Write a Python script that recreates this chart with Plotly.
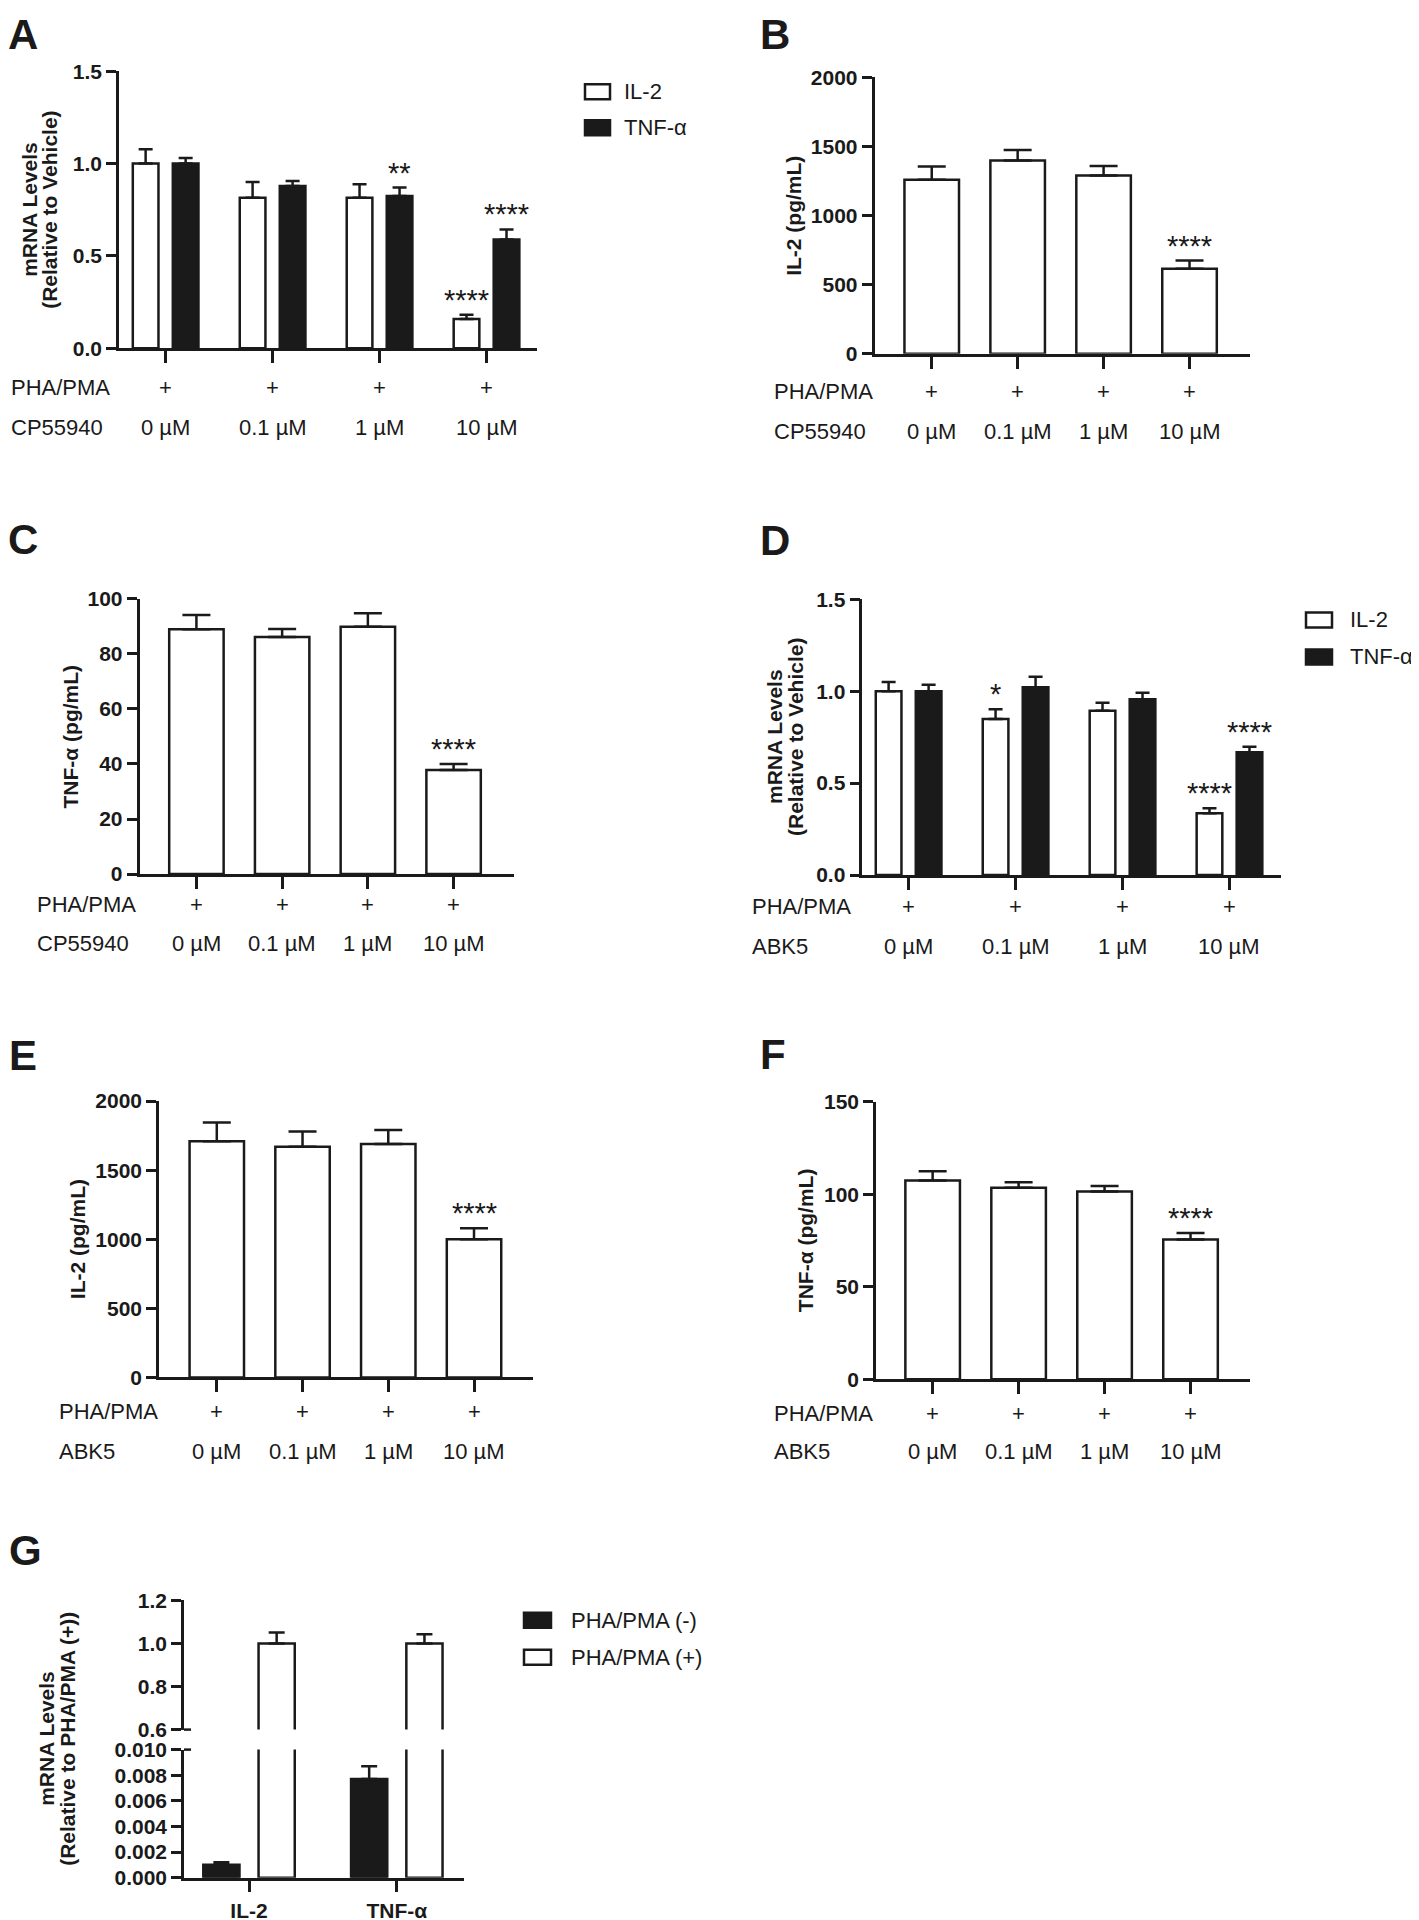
import plotly.graph_objects as go

W, H = 1411, 1920
FONT = "Arial, Liberation Sans, sans-serif"
INK = "#1a1a1a"

# ---------------- data ----------------
conc = ["0 µM", "0.1 µM", "1 µM", "10 µM"]
pha_row = ["+", "+", "+", "+"]

# Panel A (CP55940, mRNA)
a_il2 = [1.0, 0.815, 0.815, 0.158]
a_il2_err = [0.078, 0.085, 0.073, 0.023]
a_tnf = [1.0, 0.878, 0.824, 0.589]
a_tnf_err = [0.030, 0.027, 0.046, 0.054]
a_il2_sig = ["", "", "", "****"]
a_tnf_sig = ["", "", "**", "****"]

# Panel B (CP55940, IL-2 pg/mL)
b_il2 = [1260, 1400, 1290, 615]
b_il2_err = [95, 75, 70, 60]
b_sig = ["", "", "", "****"]

# Panel C (CP55940, TNF-a pg/mL)
c_tnf = [89.0, 86.2, 89.9, 37.8]
c_tnf_err = [5.2, 2.9, 4.9, 2.2]
c_sig = ["", "", "", "****"]

# Panel D (ABK5, mRNA)
d_il2 = [1.0, 0.849, 0.894, 0.336]
d_il2_err = [0.05, 0.052, 0.043, 0.027]
d_tnf = [1.0, 1.021, 0.956, 0.668]
d_tnf_err = [0.035, 0.058, 0.036, 0.030]
d_il2_sig = ["", "*", "", "****"]
d_tnf_sig = ["", "", "", "****"]

# Panel E (ABK5, IL-2 pg/mL)
e_il2 = [1710, 1670, 1690, 1000]
e_il2_err = [135, 110, 100, 80]
e_sig = ["", "", "", "****"]

# Panel F (ABK5, TNF-a pg/mL)
f_tnf = [107.5, 103.5, 101.5, 75.5]
f_tnf_err = [5.0, 3.0, 3.0, 3.5]
f_sig = ["", "", "", "****"]

# Panel G
g_genes = ["IL-2", "TNF-α"]
g_neg = [0.0010, 0.0077]
g_neg_err = [0.0002, 0.0010]
g_pos = [1.0, 1.0]
g_pos_err = [0.05, 0.042]

ticks_mrna = [0, 0.5, 1.0, 1.5]
ticks_il2 = [0, 500, 1000, 1500, 2000]
ticks_c = [0, 20, 40, 60, 80, 100]
ticks_f = [0, 50, 100, 150]
ticks_g_up = [0.6, 0.8, 1.0, 1.2]
ticks_g_lo = [0.0, 0.002, 0.004, 0.006, 0.008, 0.010]


# page-pixel -> paper coordinates (layout helpers)
def X(p):
    return (p - 8) / W


def Y(p):
    return 1 - (p / 0.9877 - 20.5) / H


fig = go.Figure()
layout = dict(
    width=W, height=H, margin=dict(l=0, r=0, t=0, b=0),
    paper_bgcolor="white", plot_bgcolor="white",
    showlegend=False, barmode="overlay",
    font=dict(family=FONT, color=INK),
)
annotations = []
shapes = []

TICKFONT = dict(size=21, family=FONT, color=INK, weight="bold")
ROWFONT = dict(size=22, family=FONT, color=INK)


def axes(n, xl, xr, yt, yb, xrange, yrange, tickvals, fmt, xvisible=True,
         xlabels=False):
    s = "" if n == 1 else str(n)
    layout["xaxis" + s] = dict(
        domain=[X(xl), X(xr)], range=xrange, type="category",
        anchor="y" + s, showline=xvisible, linewidth=2.5, linecolor=INK,
        ticks="outside" if xvisible else "", ticklen=12, tickwidth=2.5,
        tickcolor=INK, showticklabels=xlabels, showgrid=False,
        zeroline=False, visible=xvisible, tickfont=TICKFONT,
    )
    layout["yaxis" + s] = dict(
        domain=[Y(yb), Y(yt)], range=yrange, anchor="x" + s,
        showline=True, linewidth=2.5, linecolor=INK, ticks="outside",
        ticklen=10, tickwidth=2.5, tickcolor=INK, tickvals=tickvals,
        tickformat=fmt, showgrid=False, zeroline=False, tickfont=TICKFONT,
    )


def bar(n, x, y, err, fill, width, offset=None, capw=10, show_err=True):
    s = "" if n == 1 else str(n)
    kw = dict(
        x=x, y=y, width=width,
        marker=dict(color=fill, line=dict(color=INK, width=2.5)),
        xaxis="x" + s, yaxis="y" + s, hoverinfo="skip",
    )
    if offset is not None:
        kw["offset"] = offset
    if show_err:
        kw["error_y"] = dict(type="data", symmetric=False, array=err,
                             arrayminus=[0] * len(err), thickness=2.5,
                             width=capw, color=INK)
    fig.add_trace(go.Bar(**kw))


def stars(n, vals, errs, sig, shift=0.0, yshift=-3):
    s = "" if n == 1 else str(n)
    for i, (v, e, t) in enumerate(zip(vals, errs, sig)):
        if t:
            annotations.append(dict(
                x=i + shift, y=v + e, xref="x" + s, yref="y" + s,
                text=t, showarrow=False, yanchor="bottom", xanchor="center",
                yshift=yshift, font=dict(size=29, family=FONT, color=INK)))


def rows(n, left_px, y1, y2, name2, labels2):
    s = "" if n == 1 else str(n)
    for yy, t in ((y1, "PHA/PMA"), (y2, name2)):
        annotations.append(dict(x=X(left_px), y=Y(yy), xref="paper", yref="paper",
                                text=t, showarrow=False, xanchor="left",
                                yanchor="middle", font=ROWFONT))
    for i, (p, c) in enumerate(zip(pha_row, labels2)):
        annotations.append(dict(x=i, y=Y(y1), xref="x" + s, yref="paper",
                                text=p, showarrow=False, xanchor="center",
                                yanchor="middle", font=ROWFONT))
        annotations.append(dict(x=i, y=Y(y2), xref="x" + s, yref="paper",
                                text=c, showarrow=False, xanchor="center",
                                yanchor="middle", font=ROWFONT))


def ytitle(lines_px, ycenter, texts):
    for xp, t in zip(lines_px, texts):
        annotations.append(dict(x=X(xp), y=Y(ycenter), xref="paper", yref="paper",
                                text="<b>" + t + "</b>", textangle=-90, showarrow=False,
                                xanchor="center", yanchor="middle",
                                font=dict(size=21, family=FONT, color=INK)))


def letter(xp, yp, t):
    annotations.append(dict(x=X(xp), y=Y(yp), xref="paper", yref="paper",
                            text="<b>" + t + "</b>", showarrow=False,
                            xanchor="left", yanchor="middle",
                            font=dict(size=42, family=FONT, color=INK)))


def legend(box_l, box_r, text_x, items):
    for yc, fill, label in items:
        shapes.append(dict(type="rect", xref="paper", yref="paper",
                           x0=X(box_l), x1=X(box_r), y0=Y(yc + 7.5), y1=Y(yc - 7.5),
                           line=dict(color=INK, width=2.5), fillcolor=fill))
        annotations.append(dict(x=X(text_x), y=Y(yc), xref="paper", yref="paper",
                                text=label, showarrow=False, xanchor="left",
                                yanchor="middle", font=ROWFONT))


GW = 0.24      # grouped bar width (category units)
GC = 0.187     # grouped bar centre shift
SW = 0.635     # single bar width

# ---------------- Panel A ----------------
axes(1, 119, 537, 71.5, 348.3, [-0.436, 3.472], [0, 1.5], ticks_mrna, ".1f")
bar(1, conc, a_il2, a_il2_err, "white", GW, -GC - GW / 2, capw=7)
bar(1, conc, a_tnf, a_tnf_err, INK, GW, GC - GW / 2, capw=7)
stars(1, a_il2, a_il2_err, a_il2_sig, -GC)
stars(1, a_tnf, a_tnf_err, a_tnf_sig, GC)
rows(1, 9, 388, 428, "CP55940", conc)
ytitle([30, 50], 210, ["mRNA Levels", "(Relative to Vehicle)"])
letter(6, 35, "A")
legend(585, 610, 622, [(92, "white", "IL-2"), (128, INK, "TNF-α")])

# ---------------- Panel B ----------------
axes(2, 874.5, 1249.5, 77.7, 354, [-0.666, 3.698], [0, 2000], ticks_il2, "d")
bar(2, conc, b_il2, b_il2_err, "white", SW, capw=14)
stars(2, b_il2, b_il2_err, b_sig)
rows(2, 772, 391.7, 431.7, "CP55940", conc)
ytitle([794], 216, ["IL-2 (pg/mL)"])
letter(758, 35, "B")

# ---------------- Panel C ----------------
axes(3, 139.5, 513.6, 599, 874, [-0.664, 3.70], [0, 100], ticks_c, "d")
bar(3, conc, c_tnf, c_tnf_err, "white", SW, capw=14)
stars(3, c_tnf, c_tnf_err, c_sig)
rows(3, 35, 904, 943, "CP55940", conc)
ytitle([70], 736.5, ["TNF-α (pg/mL)"])
letter(6, 540, "C")

# ---------------- Panel D ----------------
axes(4, 862.3, 1280.5, 599.3, 875, [-0.433, 3.477], [0, 1.5], ticks_mrna, ".1f")
bar(4, conc, d_il2, d_il2_err, "white", GW, -GC - GW / 2, capw=7)
bar(4, conc, d_tnf, d_tnf_err, INK, GW, GC - GW / 2, capw=7)
stars(4, d_il2, d_il2_err, d_il2_sig, -GC)
stars(4, d_tnf, d_tnf_err, d_tnf_sig, GC)
rows(4, 750, 906.7, 946.7, "ABK5", conc)
ytitle([775, 796], 737, ["mRNA Levels", "(Relative to Vehicle)"])
letter(758, 541, "D")
legend(1306, 1332, 1348, [(620, "white", "IL-2"), (657, INK, "TNF-α")])

# ---------------- Panel E ----------------
axes(5, 159, 533, 1101, 1377.3, [-0.674, 3.688], [0, 2000], ticks_il2, "d")
bar(5, conc, e_il2, e_il2_err, "white", SW, capw=14)
stars(5, e_il2, e_il2_err, e_sig)
rows(5, 57, 1411.7, 1451.7, "ABK5", conc)
ytitle([77], 1239, ["IL-2 (pg/mL)"])
letter(7, 1055, "E")

# ---------------- Panel F ----------------
axes(6, 876, 1249.5, 1101.7, 1379, [-0.659, 3.686], [0, 150], ticks_f, "d")
bar(6, conc, f_tnf, f_tnf_err, "white", SW, capw=14)
stars(6, f_tnf, f_tnf_err, f_sig)
rows(6, 772, 1413.3, 1451.7, "ABK5", conc)
ytitle([805], 1240, ["TNF-α (pg/mL)"])
letter(758, 1054, "F")

# ---------------- Panel G (broken axis) ----------------
GGW = 0.245
axes(7, 184, 463.6, 1749.3, 1877.3, [-0.44, 1.452], [0, 0.01], ticks_g_lo, ".3f",
     xlabels=True)
axes(8, 184, 463.6, 1600, 1729.3, [-0.44, 1.452], [0.6, 1.2], ticks_g_up, ".1f",
     xvisible=False)
bar(7, g_genes, g_neg, g_neg_err, INK, GGW, -GC - GGW / 2, capw=8)
bar(7, g_genes, g_pos, g_pos_err, "white", GGW, GC - GGW / 2, show_err=False)
bar(8, g_genes, g_pos, g_pos_err, "white", GGW, GC - GGW / 2, capw=8)
# break marks on the axis
for yp in (1729.3, 1749.3):
    shapes.append(dict(type="line", xref="paper", yref="paper",
                       x0=X(184), x1=X(191), y0=Y(yp), y1=Y(yp),
                       line=dict(color=INK, width=2.5)))
ytitle([47, 68], 1738.5, ["mRNA Levels", "(Relative to PHA/PMA (+))"])
letter(7, 1550, "G")
legend(524, 551, 569, [(1620, INK, "PHA/PMA (-)"), (1657, "white", "PHA/PMA (+)")])

layout["annotations"] = annotations
layout["shapes"] = shapes
fig.update_layout(**layout)
fig.write_html("out.html")
